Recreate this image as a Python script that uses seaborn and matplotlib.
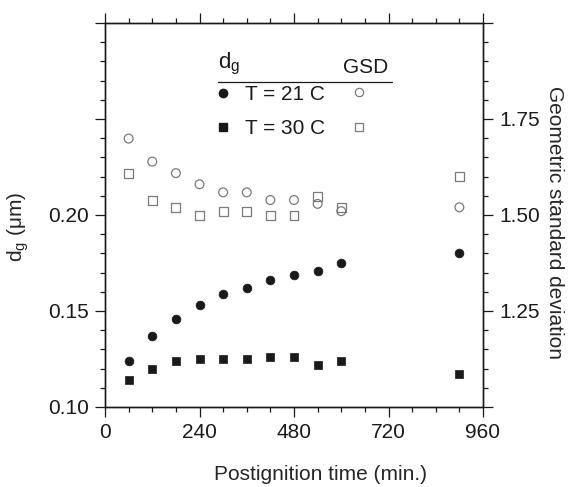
import matplotlib
matplotlib.use("Agg")
import matplotlib.pyplot as plt
from matplotlib.lines import Line2D
from matplotlib.ticker import MultipleLocator, FuncFormatter
import seaborn as sns

# --- data ---
times = [60, 120, 180, 240, 300, 360, 420, 480, 540, 600, 900]
dg_21 = [0.124, 0.137, 0.146, 0.153, 0.159, 0.162, 0.166, 0.169, 0.171, 0.175, 0.180]
dg_30 = [0.114, 0.120, 0.124, 0.125, 0.125, 0.125, 0.126, 0.126, 0.122, 0.124, 0.117]
gsd_21 = [1.699, 1.639, 1.609, 1.580, 1.559, 1.559, 1.539, 1.539, 1.529, 1.510, 1.520]
gsd_30 = [1.609, 1.538, 1.519, 1.499, 1.510, 1.510, 1.499, 1.499, 1.549, 1.520, 1.600]

x_ticks = [0, 240, 480, 720, 960]
x_labels = ["0", "240", "480", "720", "960"]

sns.set_style("ticks")
plt.rcParams["font.family"] = ["Liberation Sans", "DejaVu Sans"]
plt.rcParams["mathtext.fontset"] = "custom"
plt.rcParams["mathtext.rm"] = "Liberation Sans"
plt.rcParams["mathtext.it"] = "Liberation Sans"

FS = 15
DARK = "#1a1a1a"
GREY = "#7a7a7a"

W, H = 572, 487
fig = plt.figure(figsize=(W / 100, H / 100), dpi=100)
ax = fig.add_axes([105 / W, 1 - 407 / H, 378 / W, 384 / H])
ax2 = ax.twinx()

# dg on the left axis, GSD on the right one
sns.scatterplot(x=times, y=dg_21, ax=ax, marker="o", color=DARK, s=40, edgecolor=DARK, linewidth=0.5)
sns.scatterplot(x=times, y=dg_30, ax=ax, marker="s", color=DARK, s=40, edgecolor=DARK, linewidth=0.5)
sns.scatterplot(x=times, y=gsd_21, ax=ax2, marker="o", facecolor="none", edgecolor=GREY, s=40, linewidth=0.9)
sns.scatterplot(x=times, y=gsd_30, ax=ax2, marker="s", facecolor="none", edgecolor=GREY, s=40, linewidth=0.9)

ax.set_xlim(0, 960)
ax.set_ylim(0.10, 0.30)
ax2.set_ylim(1.0, 2.0)

ax.set_xticks(x_ticks, labels=x_labels)
ax.xaxis.set_minor_locator(MultipleLocator(60))

ax.yaxis.set_major_locator(MultipleLocator(0.05))
ax.yaxis.set_minor_locator(MultipleLocator(0.01))
ax.yaxis.set_major_formatter(FuncFormatter(lambda v, p: f"{v:.2f}" if v < 0.22 else ""))

ax2.yaxis.set_major_locator(MultipleLocator(0.25))
ax2.yaxis.set_minor_locator(MultipleLocator(0.05))
ax2.yaxis.set_major_formatter(FuncFormatter(lambda v, p: f"{v:.2f}" if 1.1 < v < 1.9 else ""))

for a in (ax, ax2):
    for sp in a.spines.values():
        sp.set_visible(True)
        sp.set_linewidth(1.0)
        sp.set_color(DARK)

ax.tick_params(which="both", direction="out", top=True, right=False, labeltop=False,
               labelsize=FS, colors=DARK, width=0.9)
ax.tick_params(which="major", length=7.5, pad=4)
ax.tick_params(which="minor", length=3.8)
ax2.tick_params(which="both", direction="out", labelsize=FS, colors=DARK, width=0.9)
ax2.tick_params(which="major", length=7.5, pad=4)
ax2.tick_params(which="minor", length=3.8)

ax.set_xlabel("Postignition time (min.)", fontsize=FS)
ax.xaxis.set_label_coords(0.569, -0.15)
ax.set_ylabel(r"d$_\mathrm{g}$ ($\mu$m)", fontsize=FS)
ax.yaxis.set_label_coords(-0.195, 0.47)
ax2.set_ylabel("Geometric standard deviation", fontsize=FS, rotation=270, va="bottom")
ax2.yaxis.set_label_coords(1.165, 0.48)


def fx(px):
    return px / W


def fy(py):
    return 1 - py / H


# hand-built legend block (two marker columns)
fig.text(fx(218), fy(68), r"d$_\mathrm{g}$", fontsize=FS + 1, va="baseline", ha="left", color=DARK)
fig.text(fx(343), fy(73), "GSD", fontsize=FS, va="baseline", ha="left", color=DARK)
fig.add_artist(Line2D([fx(218), fx(392)], [fy(82), fy(82)], color=DARK, lw=0.9))
fig.add_artist(Line2D([fx(223)], [fy(93)], marker="o", color=DARK, ms=6, ls="none"))
fig.add_artist(Line2D([fx(223)], [fy(127)], marker="s", color=DARK, ms=6, ls="none"))
fig.add_artist(Line2D([fx(359)], [fy(92)], marker="o", mfc="none", mec=GREY, ms=6, ls="none", mew=0.9))
fig.add_artist(Line2D([fx(359)], [fy(127)], marker="s", mfc="none", mec=GREY, ms=6, ls="none", mew=0.9))
fig.text(fx(245), fy(94), "T = 21 C", fontsize=FS, va="center", ha="left", color=DARK)
fig.text(fx(245), fy(128), "T = 30 C", fontsize=FS, va="center", ha="left", color=DARK)

fig.savefig("out.png", dpi=100)
